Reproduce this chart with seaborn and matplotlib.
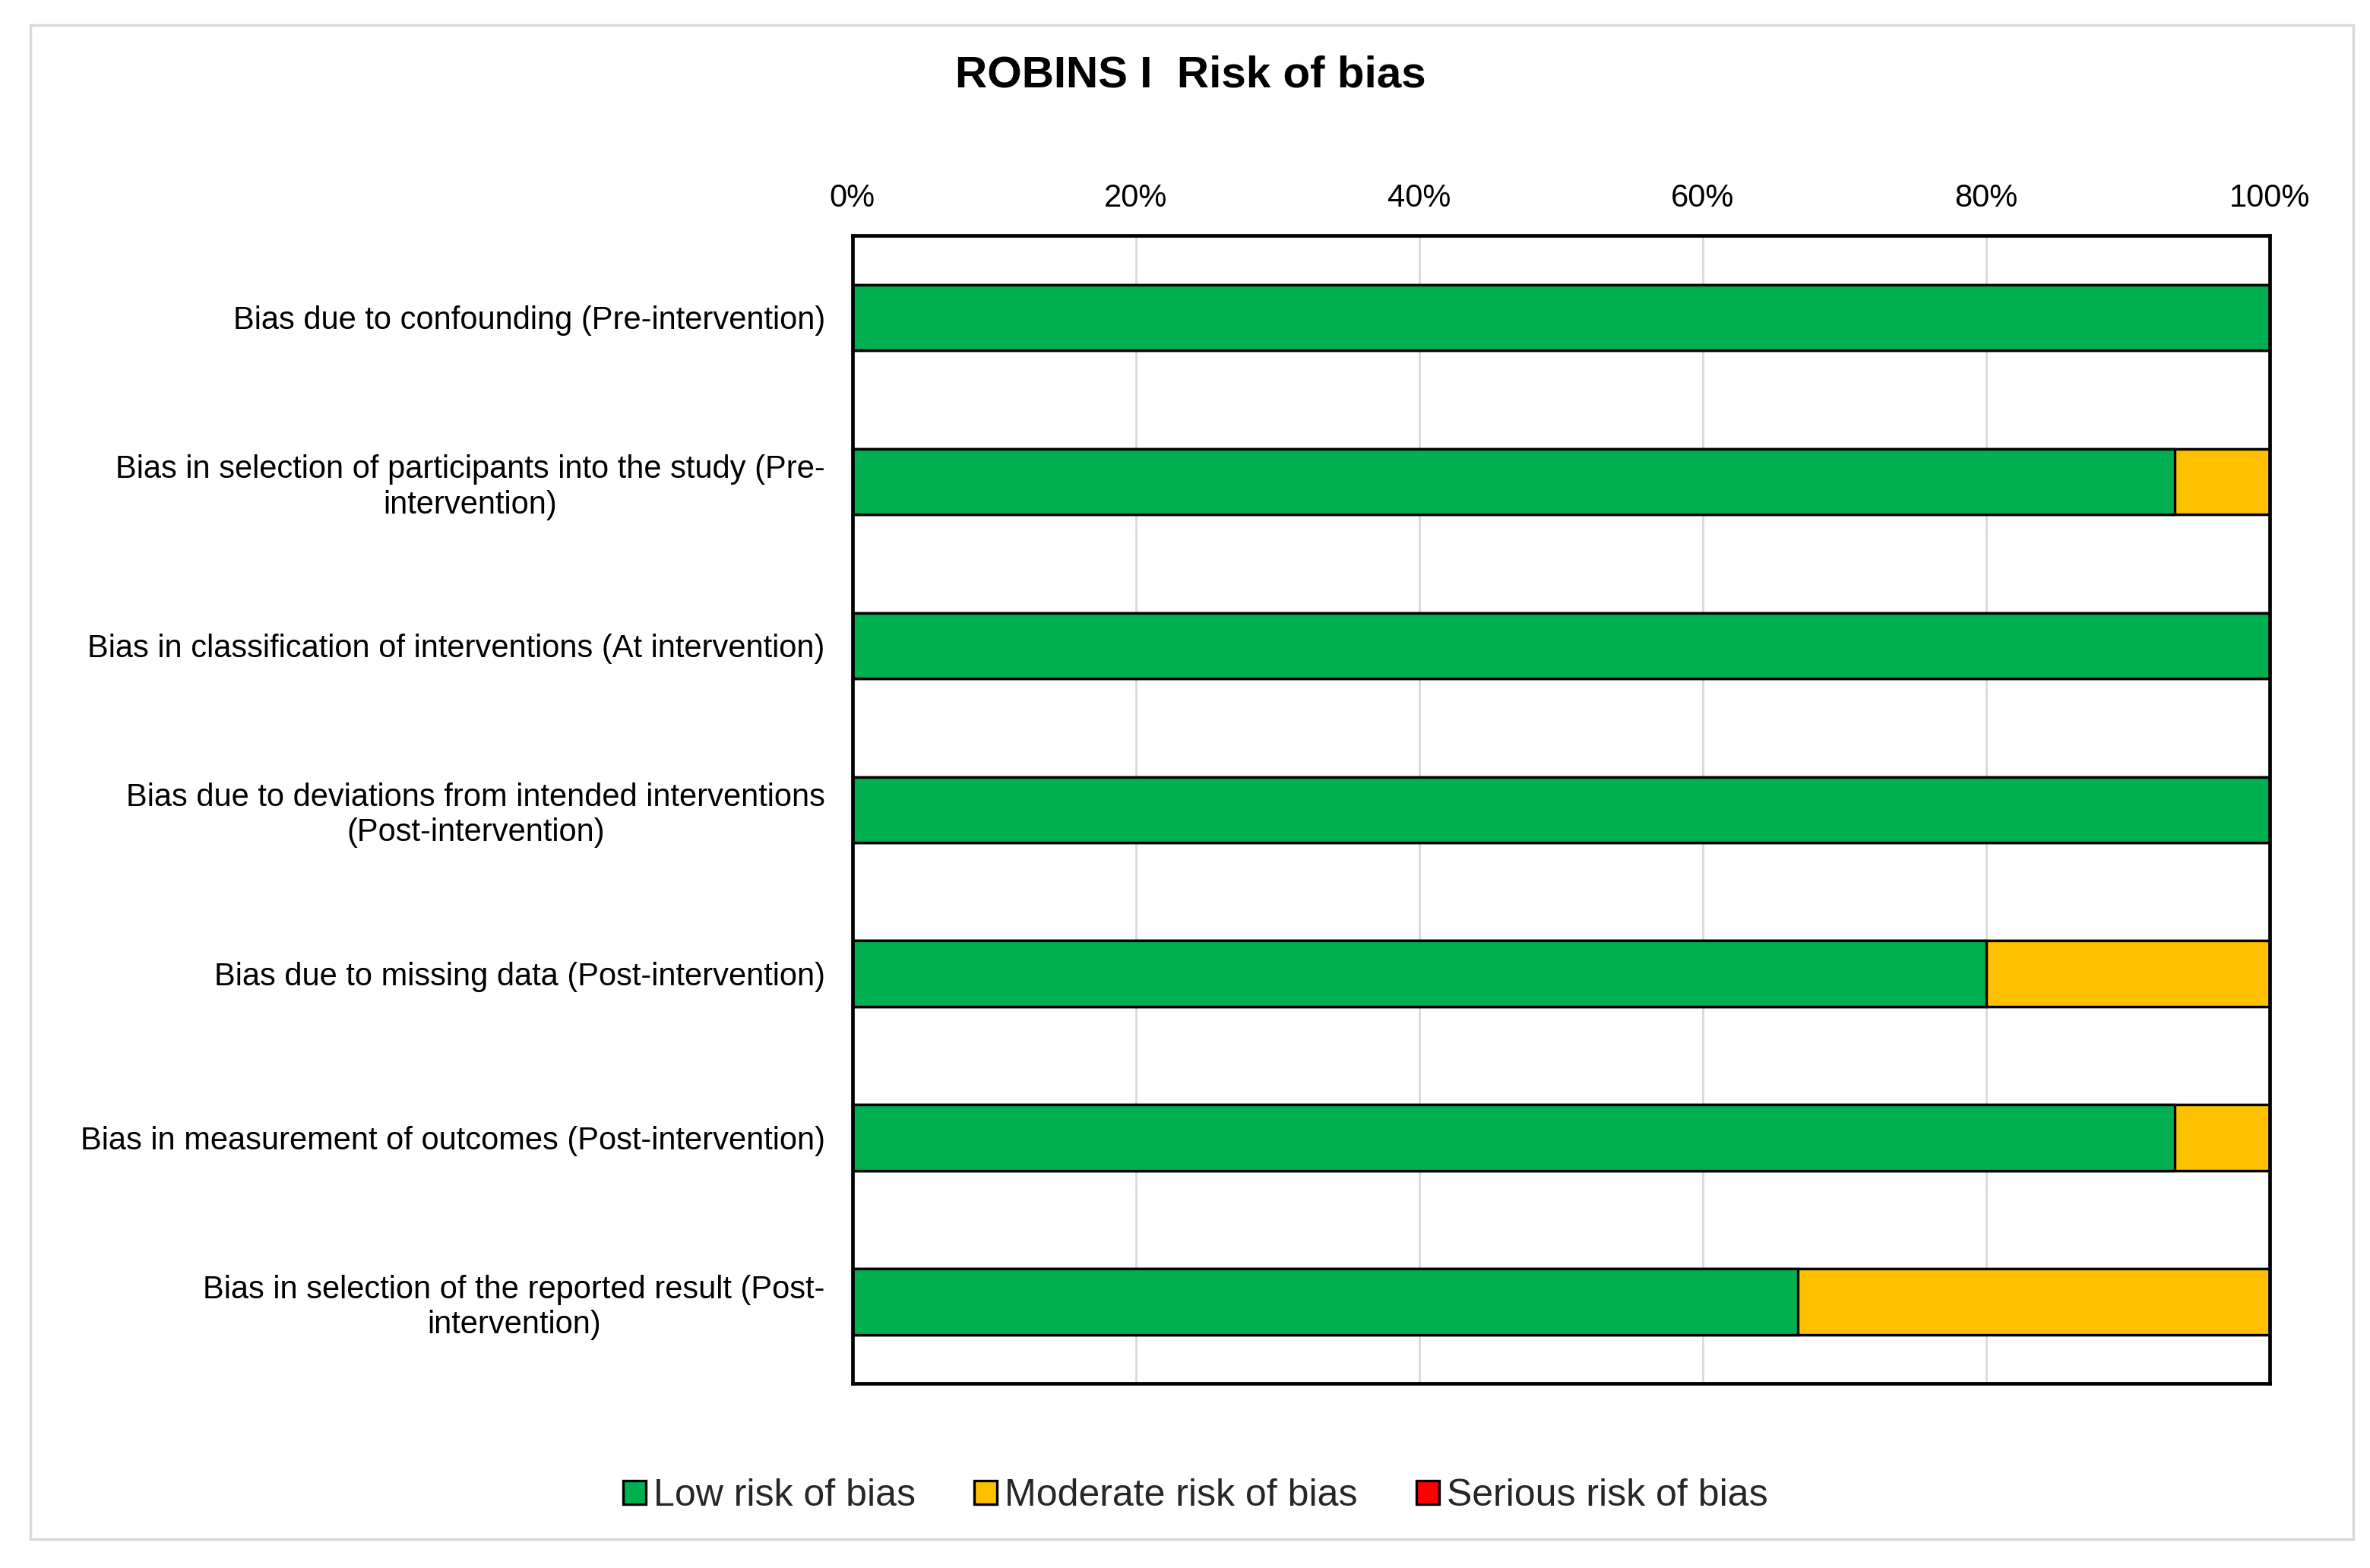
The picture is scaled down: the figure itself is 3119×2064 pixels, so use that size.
import matplotlib
matplotlib.use("Agg")
import matplotlib.pyplot as plt
import matplotlib.patches as mpatches
import numpy as np
import pandas as pd
import seaborn as sns

# ---------------- data ----------------
domains = [
    "Bias due to confounding (Pre-intervention)",
    "Bias in selection of participants into the study (Pre-\nintervention)",
    "Bias in classification of interventions (At intervention)",
    "Bias due to deviations from intended interventions\n(Post-intervention)",
    "Bias due to missing data (Post-intervention)",
    "Bias in measurement of outcomes (Post-intervention)",
    "Bias in selection of the reported result (Post-\nintervention)",
]
low_risk = [100.0, 93.3, 100.0, 100.0, 80.0, 93.3, 66.7]
moderate_risk = [0.0, 6.7, 0.0, 0.0, 20.0, 6.7, 33.3]
serious_risk = [0.0, 0.0, 0.0, 0.0, 0.0, 0.0, 0.0]
series_names = ["Low risk of bias", "Moderate risk of bias", "Serious risk of bias"]
series_colors = ["#00B050", "#FFC000", "#FF0000"]
x_ticks = [0, 20, 40, 60, 80, 100]
title = "ROBINS I  Risk of bias"

# ---------------- style ----------------
sns.set_theme(style="white")
plt.rcParams["font.family"] = ["Liberation Sans", "DejaVu Sans"]

df = pd.DataFrame({
    "domain": domains,
    "low": low_risk,
    "moderate": moderate_risk,
    "serious": serious_risk,
})
df["cum_low"] = df["low"]
df["cum_mod"] = df["low"] + df["moderate"]
df["cum_ser"] = df["cum_mod"] + df["serious"]

fig = plt.figure(figsize=(31.19, 20.64), dpi=100)
ax = fig.add_axes([0.3597, 0.1175, 0.9577 - 0.3597, 0.8498 - 0.1175])

bar_kw = dict(orient="h", width=0.4, edgecolor="black", linewidth=2.4, ax=ax,
              order=domains)
sns.barplot(data=df, x="cum_ser", y="domain", color=series_colors[2], **bar_kw)
sns.barplot(data=df, x="cum_mod", y="domain", color=series_colors[1], **bar_kw)
sns.barplot(data=df, x="cum_low", y="domain", color=series_colors[0], **bar_kw)

# make fills exact colours (seaborn may desaturate)
n = len(domains)
for i, p in enumerate(ax.patches):
    p.set_facecolor(series_colors[2 - i // n])

ax.set_xlim(0, 100)
ax.set_xticks(x_ticks)
ax.set_xticklabels([f"{t}%" for t in x_ticks])
ax.xaxis.tick_top()
ax.set_xlabel("")
ax.set_ylabel("")
ax.tick_params(axis="x", length=0, pad=21, labelsize=30, colors="black")
ax.tick_params(axis="y", length=0, pad=26, labelsize=30, colors="black")
for lbl in ax.get_yticklabels():
    lbl.set_multialignment("center")

ax.grid(axis="x", color="#d9d9d9", linewidth=2.0)
ax.grid(axis="y", visible=False)
ax.set_axisbelow(True)
for s in ax.spines.values():
    s.set_visible(True)
    s.set_color("black")
    s.set_linewidth(3.4)

fig.text(0.5022, 0.952, title, ha="center", va="center", fontsize=42,
         fontweight="bold", color="black")

handles = [mpatches.Patch(facecolor=c, edgecolor="black", linewidth=2.4, label=l)
           for c, l in zip(series_colors, series_names)]
fig.legend(handles=handles, loc="center", bbox_to_anchor=(0.5045, 0.046),
           ncol=3, frameon=False, fontsize=36, handlelength=0.6,
           handleheight=0.6, handletextpad=0.2, columnspacing=1.55)

frame = mpatches.Rectangle((0.0128, 0.0184), 0.9929 - 0.0128, 0.984 - 0.0184,
                           transform=fig.transFigure, fill=False,
                           edgecolor="#d9d9d9", linewidth=2.5, zorder=-1)
fig.patches.append(frame)

fig.savefig("out.png", dpi=100, facecolor="white")
